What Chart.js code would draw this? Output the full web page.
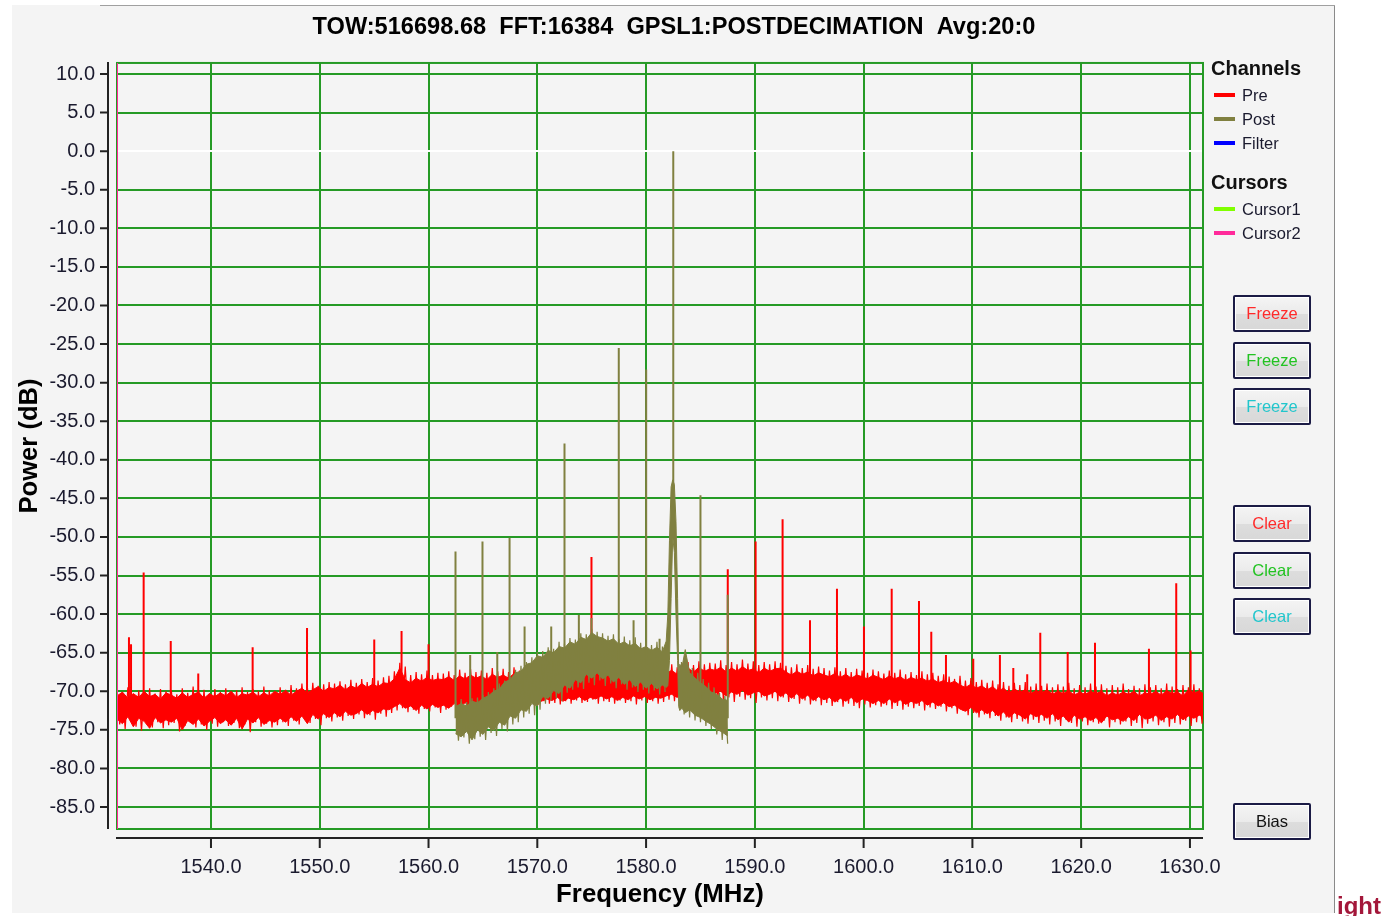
<!DOCTYPE html>
<html>
<head>
<meta charset="utf-8">
<script src="https://cdn.jsdelivr.net/npm/chart.js@4.4.1/dist/chart.umd.min.js"></script>
<style>
  html, body { margin: 0; padding: 0; width: 1381px; height: 916px; overflow: hidden; background: #fff; font-family: "Liberation Sans", Arial, sans-serif; }
  #frame { position: absolute; left: 12px; top: 5px; width: 1322px; height: 908px; background: #f4f4f4; border-right: 1px solid #8a8a8a; }
  #topline { position: absolute; left: 100px; top: 5px; width: 1235px; height: 1px; background: #a0a0a0; }
  #chart { position: absolute; left: 0; top: 0; }
  .lg-head { position: absolute; left: 1211px; font-weight: bold; font-size: 20px; line-height: 24px; color: #111; }
  .lg-item { position: absolute; left: 1214px; height: 24px; line-height: 24px; font-size: 16.5px; color: #1a1a2e; }
  .lg-item span.sw { position: absolute; left: 0; top: 10px; width: 21px; height: 4px; }
  .lg-item span.tx { position: absolute; left: 28px; top: 0; white-space: nowrap; }
  .btn { position: absolute; left: 1233px; width: 78px; height: 37px; box-sizing: border-box; border: 2px solid #1b1b45;
         background: linear-gradient(#f4f4f4, #ebebeb 50%, #dddddd 51%, #d8d8d8); box-shadow: inset 0 0 0 1px #fff;
         border-radius: 2px; font-size: 16.5px; line-height: 33px; text-align: center; }
  #clip { position: absolute; left: 1337px; top: 894px; font-size: 24px; line-height: 1; font-weight: bold; color: #a3173a; white-space: nowrap; }
</style>
</head>
<body>
<div id="frame"></div>
<div id="topline"></div>
<canvas id="chart" width="1381" height="916"></canvas>
<div id="legend"></div>
<div id="buttons"></div>
<div id="clip">ight</div>
<script>
const titleText = "TOW:516698.68  FFT:16384  GPSL1:POSTDECIMATION  Avg:20:0";
const xMin = 1531.36, xMax = 1631.2;
const yMin = -87.85, yMax = 11.43;
const xTicks = [1540, 1550, 1560, 1570, 1580, 1590, 1600, 1610, 1620, 1630];
const yTicks = [10, 5, 0, -5, -10, -15, -20, -25, -30, -35, -40, -45, -50, -55, -60, -65, -70, -75, -80, -85];

// Pre channel: solid core of the noise floor, one value every 0.5 MHz from 1531.36 MHz
const preStart = 1531.36, preStep = 0.5;
const preHi = [
  -70.6,-70.1,-70.9,-70.3,-70.8,-70.0,-70.7,-70.4,-71.0,-70.2,
  -70.5,-70.9,-70.2,-70.8,-70.4,-70.1,-70.9,-70.3,-70.7,-70.2,
  -70.6,-70.0,-70.8,-70.3,-70.5,-70.1,-70.7,-70.2,-70.6,-70.0,
  -70.4,-69.9,-70.5,-70.0,-69.6,-70.2,-69.8,-69.4,-70.0,-69.5,
  -69.7,-69.2,-69.8,-69.3,-69.6,-69.0,-69.5,-69.1,-69.4,-68.9,
  -69.0,-68.4,-67.0,-68.5,-68.9,-68.3,-68.7,-68.2,-68.6,-68.4,
  -68.5,-68.1,-68.6,-68.0,-68.4,-67.9,-68.3,-68.0,-68.5,-67.8,
  -68.2,-67.9,-68.3,-67.7,-68.1,-67.8,-68.2,-67.6,-68.0,-67.7,
  -68.0,-67.6,-68.1,-67.4,-67.9,-67.5,-67.2,-67.8,-67.3,-67.7,
  -67.9,-67.5,-68.0,-67.6,-67.9,-67.4,-68.1,-67.7,-68.0,-67.8,
  -68.0,-67.6,-67.3,-67.8,-67.2,-67.0,-67.5,-66.9,-67.4,-67.1,
  -67.3,-66.9,-67.5,-67.0,-67.4,-66.8,-67.3,-67.1,-67.6,-67.0,
  -67.4,-67.1,-67.0,-67.5,-67.9,-67.4,-67.8,-67.5,-68.0,-67.6,
  -67.9,-68.1,-67.7,-68.2,-67.8,-68.3,-67.9,-68.1,-68.4,-67.9,
  -68.2,-68.5,-68.0,-68.4,-68.1,-68.6,-68.2,-68.5,-68.3,-68.7,
  -68.4,-68.9,-68.6,-69.0,-68.7,-69.2,-69.5,-69.1,-69.6,-69.3,
  -69.8,-69.4,-70.0,-69.6,-70.2,-69.7,-70.1,-69.8,-70.3,-69.9,
  -70.2,-69.8,-70.4,-70.0,-70.3,-69.9,-70.5,-70.1,-70.4,-70.0,
  -70.3,-70.0,-70.6,-70.2,-70.5,-70.1,-70.4,-70.0,-70.6,-70.2,
  -70.4,-70.0,-70.5,-69.9,-70.3,-70.1,-70.6,-69.8,-70.2,-70.0,-70.4
];
const preLo = [
  -73.6,-74.2,-73.3,-74.6,-73.5,-73.9,-74.8,-73.4,-74.1,-73.7,
  -74.0,-73.5,-75.0,-73.8,-74.3,-73.6,-74.5,-73.9,-73.4,-74.2,
  -73.7,-74.4,-73.5,-74.9,-73.6,-74.1,-73.4,-74.3,-73.8,-74.0,
  -73.5,-74.0,-73.3,-73.9,-73.2,-74.2,-73.0,-73.6,-72.9,-73.4,
  -72.8,-73.3,-72.6,-73.1,-72.9,-72.4,-73.0,-72.5,-72.8,-72.3,
  -72.4,-72.0,-71.6,-72.2,-71.9,-72.5,-71.8,-72.3,-71.7,-72.1,
  -71.8,-72.2,-71.6,-72.0,-71.5,-71.9,-71.4,-71.8,-71.6,-71.3,
  -71.5,-71.2,-71.6,-71.0,-71.4,-71.1,-71.5,-70.9,-71.3,-71.0,
  -71.2,-70.8,-71.3,-70.9,-71.1,-70.7,-71.2,-70.8,-71.0,-70.6,
  -71.0,-70.7,-71.2,-70.8,-71.1,-70.6,-71.0,-70.7,-71.1,-70.8,
  -70.9,-70.6,-70.4,-70.8,-70.3,-70.5,-70.2,-70.6,-70.1,-70.4,
  -70.3,-70.0,-70.6,-70.1,-70.4,-69.9,-70.5,-70.2,-70.0,-70.6,
  -70.4,-70.0,-70.7,-70.2,-70.9,-70.3,-71.0,-70.5,-71.2,-70.7,
  -71.1,-70.8,-71.4,-70.9,-71.3,-70.8,-71.5,-71.0,-71.2,-71.6,
  -71.2,-71.6,-71.0,-71.5,-71.1,-71.7,-71.3,-71.6,-71.2,-71.8,
  -71.4,-71.9,-71.5,-72.0,-71.8,-72.3,-72.6,-72.1,-72.8,-72.4,
  -72.9,-72.5,-73.2,-72.7,-73.4,-72.8,-73.1,-73.6,-72.9,-73.3,
  -73.0,-73.5,-72.9,-73.7,-73.2,-74.0,-73.1,-73.6,-73.3,-73.8,
  -73.4,-74.1,-73.2,-73.7,-73.5,-73.9,-73.3,-73.8,-73.0,-73.6,
  -73.5,-73.1,-73.8,-73.3,-73.6,-73.0,-73.7,-73.2,-73.5,-73.1,-73.4
];
// Pre channel: raw trace, one value every 0.25 MHz from 1531.36 MHz
const preTraceStep = 0.25;
const preTrace = [
  -69.8,-74.3,-70.2,-74.9,-69.5,-73.9,-70.4,-74.6,-69.9,-75.1,-70.1,-74.2,-69.6,-74.7,-70.3,-74.0,-69.7,-74.8,-70.0,-74.4,
  -69.9,-74.1,-70.4,-75.2,-69.6,-74.5,-70.2,-73.9,-69.4,-74.7,-70.0,-74.3,-69.8,-75.0,-70.3,-74.2,-69.7,-74.6,-70.1,-74.0,
  -69.6,-74.5,-70.2,-74.1,-69.9,-74.8,-69.5,-74.3,-70.1,-75.3,-69.7,-74.0,-70.0,-74.6,-69.4,-74.2,-69.9,-74.7,-70.2,-74.4,
  -69.5,-74.0,-69.8,-74.5,-69.2,-73.8,-69.6,-74.3,-69.0,-73.7,-69.4,-74.1,-68.9,-73.6,-69.3,-74.4,-69.1,-73.5,-68.8,-73.9,
  -69.0,-73.4,-68.7,-73.8,-69.1,-73.2,-68.5,-73.6,-68.9,-73.0,-68.4,-73.5,-68.8,-73.1,-68.3,-73.7,-68.6,-72.9,-68.2,-73.3,
  -68.0,-72.8,-67.4,-72.5,-66.3,-72.2,-66.8,-72.7,-67.9,-72.4,-67.5,-72.9,-67.8,-72.3,-67.3,-72.6,-67.9,-72.1,-67.6,-72.8,
  -67.7,-72.4,-67.4,-72.0,-67.9,-72.6,-67.2,-71.9,-67.6,-72.3,-67.1,-71.8,-67.5,-72.2,-67.3,-71.7,-67.6,-72.1,-67.0,-71.9,
  -67.4,-71.8,-67.1,-72.0,-67.5,-71.6,-66.9,-71.9,-67.3,-71.5,-67.0,-71.8,-67.4,-71.4,-66.8,-71.7,-67.2,-71.3,-66.9,-71.6,
  -67.1,-71.5,-66.8,-71.7,-67.2,-71.3,-66.6,-71.6,-67.0,-71.2,-66.7,-71.5,-66.4,-71.4,-66.9,-71.1,-66.5,-71.6,-66.9,-71.3,
  -67.0,-71.4,-66.7,-71.6,-67.2,-71.2,-66.8,-71.5,-67.1,-71.3,-66.6,-71.7,-67.0,-71.2,-66.9,-71.5,-67.2,-71.3,-66.8,-71.6,
  -67.1,-71.4,-66.8,-71.1,-66.5,-71.3,-66.9,-70.9,-66.4,-71.2,-66.2,-70.8,-66.6,-71.1,-66.1,-70.9,-66.5,-71.0,-66.3,-70.7,
  -66.4,-70.9,-66.0,-71.2,-66.6,-70.8,-66.2,-71.4,-66.5,-70.7,-65.9,-71.1,-66.4,-70.9,-66.1,-71.5,-66.6,-70.8,-66.2,-71.2,
  -66.5,-70.9,-66.1,-71.3,-66.3,-70.8,-66.7,-71.4,-66.9,-71.0,-66.5,-71.6,-67.0,-71.2,-66.6,-71.7,-67.1,-71.3,-66.8,-71.8,
  -67.0,-71.5,-67.3,-71.9,-66.9,-71.4,-67.4,-72.0,-67.0,-71.6,-67.5,-71.9,-67.1,-72.2,-67.3,-71.7,-67.6,-72.1,-67.2,-71.8,
  -67.4,-72.0,-67.7,-71.8,-67.3,-72.3,-67.6,-71.9,-67.2,-72.4,-67.8,-72.0,-67.5,-72.2,-67.9,-71.9,-67.4,-72.5,-67.8,-72.1,
  -67.6,-72.3,-68.0,-72.0,-67.8,-72.6,-68.1,-72.2,-68.4,-72.9,-68.0,-72.5,-68.6,-73.1,-68.3,-72.8,-68.8,-73.4,-68.5,-73.0,
  -68.9,-73.5,-68.6,-73.2,-69.1,-73.8,-68.8,-73.4,-69.3,-74.0,-68.9,-73.6,-69.2,-73.9,-68.8,-74.2,-69.4,-73.7,-69.0,-74.1,
  -69.3,-73.8,-69.0,-74.3,-69.5,-73.9,-69.1,-74.5,-69.4,-73.7,-68.9,-74.1,-69.6,-74.6,-69.2,-73.9,-69.5,-74.4,-69.0,-74.0,
  -69.4,-74.2,-69.1,-73.8,-69.6,-74.7,-69.2,-74.0,-69.5,-74.3,-69.0,-73.9,-69.7,-74.5,-69.3,-74.1,-69.6,-74.8,-69.1,-74.2,
  -69.5,-73.9,-69.2,-74.4,-69.6,-74.0,-69.0,-74.6,-69.4,-74.1,-69.7,-74.3,-69.2,-73.8,-69.5,-74.5,-69.1,-74.0,-69.6,-74.2,
  -69.4
];
const preSpikeFreq  = [1532.46, 1532.65, 1533.81, 1536.30, 1538.83, 1543.83, 1548.83, 1555.01, 1557.52, 1560.00,
                       1574.98, 1587.51, 1590.07, 1592.55, 1595.07, 1597.55, 1600.03, 1602.58, 1605.09, 1606.22,
                       1607.57, 1610.08, 1612.53, 1613.76, 1615.04, 1616.24, 1618.76, 1621.27, 1626.23, 1628.74, 1630.06];
const preSpikeTop   = [-63.0, -63.9, -54.6, -63.5, -67.7, -64.3, -61.8, -63.3, -62.2, -63.9,
                       -52.6, -54.2, -50.6, -47.7, -60.8, -56.7, -61.6, -56.7, -58.3, -62.3,
                       -65.3, -65.8, -65.3, -67.0, -67.8, -62.4, -64.9, -63.7, -64.5, -56.0, -64.7];
const preSpikeFloor = [-72, -72, -72, -72, -72, -72, -71.5, -71, -70.5, -70.5,
                       -70, -69, -69, -69, -69.5, -69.5, -69.5, -70, -70, -70,
                       -70, -71, -71.5, -71.5, -71.5, -71.5, -71.5, -71.5, -71.5, -71.5, -71.5];

// Post channel: solid core of the decimated band
const postFreq = [1562.48, 1563.0, 1563.5, 1564.0, 1564.5, 1565.0, 1565.5, 1566.0, 1566.5, 1567.0,
                  1567.5, 1568.0, 1568.5, 1569.0, 1569.5, 1570.0, 1570.5, 1571.0, 1571.5, 1572.0,
                  1572.5, 1573.0, 1573.5, 1574.0, 1574.5, 1575.0, 1575.5, 1576.0, 1576.5, 1577.0,
                  1577.5, 1578.0, 1578.5, 1579.0, 1579.5, 1580.0, 1580.5, 1581.0, 1581.5, 1581.85,
                  1582.0, 1582.15, 1582.3, 1582.45, 1582.6, 1582.75, 1582.9, 1583.0, 1583.1, 1583.3,
                  1583.6, 1584.0, 1584.5, 1585.0, 1585.5, 1586.0, 1586.5, 1587.0, 1587.52];
const postHi = [-72.0, -71.6, -71.9, -71.3, -71.5, -70.9, -70.6, -70.0, -69.7, -68.8,
                -68.5, -67.6, -67.4, -66.5, -66.3, -65.4, -65.6, -64.7, -65.0, -64.2,
                -64.4, -63.6, -63.9, -63.0, -63.3, -62.4, -62.9, -63.1, -63.5, -63.2,
                -63.9, -63.6, -64.1, -63.8, -64.5, -64.2, -64.7, -64.3, -64.9, -63.5,
                -60.0, -50.5, -43.5, -42.6, -43.2, -48.0, -58.0, -67.8, -66.5, -66.9,
                -64.6, -67.6, -68.3, -68.9, -69.4, -70.1, -70.4, -71.0, -71.2];
const postLo = [-75.5, -75.9, -75.2, -76.3, -75.0, -75.6, -74.6, -75.1, -74.0, -74.4,
                -73.2, -73.5, -72.4, -72.6, -71.6, -71.9, -70.7, -70.9, -69.9, -70.3,
                -69.2, -69.6, -68.5, -68.9, -67.8, -68.3, -67.6, -68.4, -67.9, -68.8,
                -68.2, -69.1, -68.5, -69.4, -68.8, -69.6, -69.0, -69.7, -69.2, -69.5,
                -69.3, -66.0, -58.0, -50.0, -52.0, -60.0, -66.0, -72.0, -72.5, -72.2,
                -72.8, -72.4, -73.1, -73.4, -73.9, -74.3, -74.9, -75.3, -75.8];
// Post channel: raw trace, one value every 0.25 MHz from 1562.5 MHz (gap over the carrier)
const postTraceStart = 1562.5, postTraceStep = 0.25;
const postTrace = [
  -71.2,-76.4,-71.0,-76.0,-71.4,-76.8,-70.9,-76.2,
  -70.8,-75.9,-70.5,-76.3,-70.1,-75.4,-69.6,-75.8,
  -69.0,-74.9,-68.6,-75.2,-68.0,-74.3,-67.2,-74.0,
  -66.7,-73.4,-66.2,-72.9,-65.6,-73.1,-64.9,-72.4,
  -64.8,-71.6,-64.3,-71.2,-64.5,-70.9,-63.6,-71.3,
  -63.8,-70.2,-63.1,-69.8,-63.3,-69.5,-62.5,-69.7,
  -62.6,-68.9,-61.9,-69.2,-62.3,-68.6,-62.5,-69.3,
  -62.8,-69.0,-62.6,-69.6,-63.2,-69.1,-62.9,-69.8,
  -63.4,-69.5,-63.0,-70.1,-63.7,-69.8,-63.5,-70.3,
  -64.0,-69.9,-63.6,-70.4,-64.2,-70.1,
  null, null, null, null, null,
  -66.2,-73.0,-66.5,-73.4,-67.0,-73.8,-67.6,-74.0,
  -68.4,-74.5,-68.9,-74.9,-69.5,-75.6,-70.2,-76.3,
  -70.6,-76.8
];
const postSpikeFreq  = [1562.48, 1563.83, 1564.96, 1566.32, 1567.45, 1568.83, 1571.28, 1572.50, 1573.82,
                        1574.98, 1577.49, 1578.85, 1580.01, 1581.24, 1582.50, 1585.00, 1587.51];
const postSpikeTop   = [-51.9, -65.3, -50.6, -64.9, -50.1, -61.6, -61.6, -37.9, -60.1,
                        -60.5, -25.5, -60.8, -28.3, -63.2, 0.0, -44.6, -57.5];
const postSpikeFloor = [-73.5, -73.5, -73, -72, -71, -70, -67.5, -67, -66,
                        -65.5, -66, -66.5, -67, -67, -50, -71, -73.5];

const cursor2Freq = 1531.36;

const channelNames = ["Pre", "Post", "Filter"];
const channelColors = ["#ff0000", "#808040", "#0000ff"];
const cursorNames = ["Cursor1", "Cursor2"];
const cursorColors = ["#80ff00", "#ff2a9a"];

const gridGreen = "#259a25";
const fontFamily = "'Liberation Sans', Arial, sans-serif";

function spikes(freqs, floors, tops) {
  return freqs.flatMap((f, i) => [{ x: f, y: floors[i] }, { x: f, y: tops[i] }, { x: f, y: null }]);
}
const preData = side => side.map((v, i) => ({ x: preStart + i * preStep, y: v }));
const postData = side => side.map((v, i) => ({ x: postFreq[i], y: v }));
const preTraceData = preTrace.map((v, i) => ({ x: preStart + i * preTraceStep, y: v }));
const postTraceData = postTrace.map((v, i) => ({ x: postTraceStart + i * postTraceStep, y: v }));

const axesPlugin = {
  id: "axesFrame",
  beforeDatasetsDraw(chart) {
    const { ctx, chartArea: a, scales: { x, y } } = chart;
    ctx.save();
    ctx.strokeStyle = gridGreen;
    ctx.lineWidth = 2;
    ctx.strokeRect(a.left, a.top, a.right - a.left, a.bottom - a.top);
    ctx.strokeStyle = "#222";
    ctx.beginPath();
    ctx.moveTo(a.left - 9, a.top - 1);
    ctx.lineTo(a.left - 9, a.bottom);
    yTicks.forEach(v => { const p = y.getPixelForValue(v); ctx.moveTo(a.left - 17, p); ctx.lineTo(a.left - 9, p); });
    ctx.moveTo(a.left - 1, a.bottom + 9);
    ctx.lineTo(a.right, a.bottom + 9);
    xTicks.forEach(v => { const p = x.getPixelForValue(v); ctx.moveTo(p, a.bottom + 9); ctx.lineTo(p, a.bottom + 19); });
    ctx.stroke();
    ctx.restore();
  }
};

new Chart(document.getElementById("chart"), {
  type: "line",
  data: {
    datasets: [
      { label: "Cursor2", data: [{ x: cursor2Freq, y: yMin }, { x: cursor2Freq, y: yMax }], borderColor: cursorColors[1], borderWidth: 2, order: 0 },
      { label: "Post spikes", data: spikes(postSpikeFreq, postSpikeFloor, postSpikeTop), borderColor: channelColors[1], borderWidth: 2, order: 1 },
      { label: "Post trace", data: postTraceData, borderColor: channelColors[1], borderWidth: 1.2, order: 1 },
      { label: "Post", data: postData(postHi), borderColor: channelColors[1], backgroundColor: channelColors[1], borderWidth: 1, fill: "+1", order: 2 },
      { label: "Post low", data: postData(postLo), borderColor: channelColors[1], borderWidth: 1, order: 2 },
      { label: "Pre spikes", data: spikes(preSpikeFreq, preSpikeFloor, preSpikeTop), borderColor: channelColors[0], borderWidth: 2, order: 3 },
      { label: "Pre trace", data: preTraceData, borderColor: channelColors[0], borderWidth: 1.2, order: 3 },
      { label: "Pre", data: preData(preHi), borderColor: channelColors[0], backgroundColor: channelColors[0], borderWidth: 1, fill: "+1", order: 4 },
      { label: "Pre low", data: preData(preLo), borderColor: channelColors[0], borderWidth: 1, order: 4 }
    ]
  },
  options: {
    responsive: false,
    animation: false,
    elements: { point: { radius: 0 }, line: { tension: 0 } },
    layout: { padding: { left: 0, right: 33, top: 0, bottom: 0 } },
    plugins: {
      legend: { display: false },
      tooltip: { enabled: false },
      title: {
        display: true, text: titleText, color: "#000",
        font: { family: fontFamily, size: 23.6, weight: "bold", lineHeight: 1.1 },
        padding: { top: 15, bottom: 22 }
      }
    },
    scales: {
      x: {
        type: "linear", min: xMin, max: xMax,
        afterBuildTicks: s => { s.ticks = xTicks.map(v => ({ value: v })); },
        afterFit: s => { s.height = 87; },
        grid: { color: gridGreen, lineWidth: 2, drawTicks: false },
        border: { display: false },
        ticks: { color: "#1a1a2e", font: { family: fontFamily, size: 20 }, padding: 26, maxRotation: 0, autoSkip: false, callback: v => v.toFixed(1) },
        title: { display: true, text: "Frequency (MHz)", color: "#000", font: { family: fontFamily, size: 25.8, weight: "bold", lineHeight: 1.2 }, padding: { top: 0, bottom: 6 } }
      },
      y: {
        type: "linear", min: yMin, max: yMax,
        afterBuildTicks: s => { s.ticks = yTicks.map(v => ({ value: v })); },
        afterFit: s => { s.width = 117; },
        grid: { color: c => (c.tick && c.tick.value === 0 ? "#ffffff" : gridGreen), lineWidth: 2, drawTicks: false },
        border: { display: false },
        ticks: { color: "#1a1a2e", font: { family: fontFamily, size: 20 }, padding: 22, autoSkip: false, callback: v => v.toFixed(1) },
        title: { display: true, text: "Power (dB)", color: "#000", font: { family: fontFamily, size: 25.6, weight: "bold", lineHeight: 1.2 }, padding: { top: 15, bottom: 0 } }
      },
      side: {
        type: "linear", position: "right", min: yMin, max: yMax, display: true,
        afterFit: s => { s.width = 145; },
        grid: { display: false, drawTicks: false },
        border: { display: false },
        ticks: { display: false }
      }
    }
  },
  plugins: [axesPlugin]
});

// legend on the right
const legend = document.getElementById("legend");
function legendBlock(title, names, colors, top) {
  let html = `<div class="lg-head" style="top:${top}px">${title}</div>`;
  names.forEach((n, i) => {
    html += `<div class="lg-item" style="top:${top + 27 + i * 24}px"><span class="sw" style="background:${colors[i]}"></span><span class="tx">${n}</span></div>`;
  });
  return html;
}
legend.innerHTML = legendBlock("Channels", channelNames, channelColors, 56) + legendBlock("Cursors", cursorNames, cursorColors, 170);

const buttons = [
  ["Freeze", "#ff2a2a", 295], ["Freeze", "#22c322", 342], ["Freeze", "#22c6cc", 388],
  ["Clear", "#ff2a2a", 505], ["Clear", "#22c322", 552], ["Clear", "#22c6cc", 598],
  ["Bias", "#111", 803]
];
document.getElementById("buttons").innerHTML = buttons
  .map(([t, c, top]) => `<div class="btn" style="top:${top}px;color:${c}">${t}</div>`).join("");
</script>
</body>
</html>
